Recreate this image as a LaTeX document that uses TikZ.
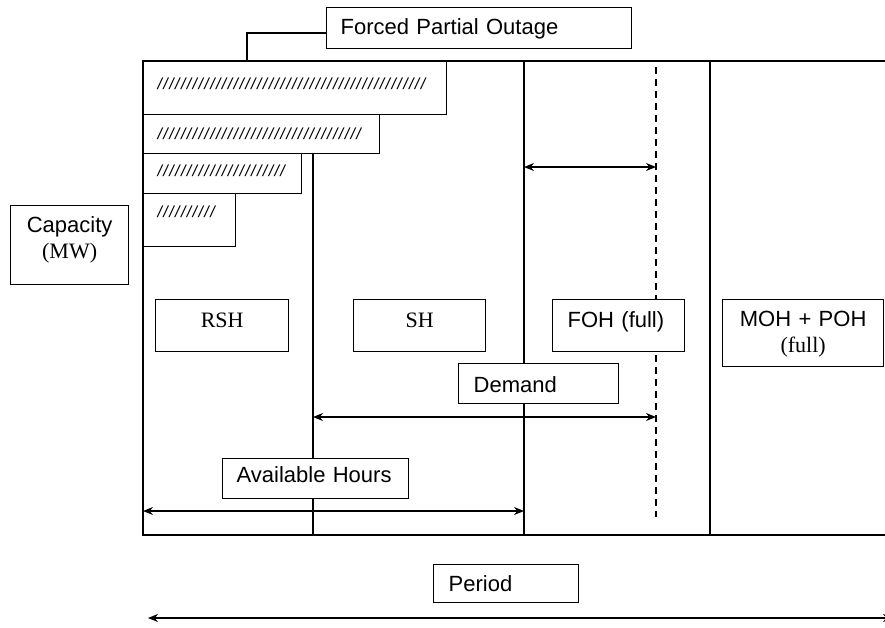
\documentclass[tikz,border=0pt]{standalone}
\usepackage{fontspec}
\setmainfont{Liberation Sans}
\newfontfamily\tnr{Liberation Serif}
\usetikzlibrary{arrows.meta, positioning}

\newcommand{\hatchrow}[1]{{\fontsize{16}{18}\selectfont\itshape\foreach \i in {1,...,#1}{/\kern1.4pt}}}

\tikzset{
    tbox/.style={draw, fill=white, line width=1.3pt, inner ysep=0pt, anchor=north west,
        font=\fontsize{22}{26}\selectfont},
    frame/.style={line width=1.3pt},
    dimarrow/.style={line width=1.3pt, {Stealth[length=10pt,width=8pt]}-{Stealth[length=10pt,width=8pt]}}
}

\begin{document}
\begin{tikzpicture}[x=1pt, y=-1pt]
    \useasboundingbox (0,0) rectangle (885,627);
    \clip (0,0) rectangle (885,627);

    % frame and divisions
    \draw[frame] (885,61) -- (143,61) -- (143,535) -- (885,535);
    \draw[frame] (313,153) -- (313,535);
    \draw[frame] (524,61) -- (524,535);
    \draw[frame] (710,61) -- (710,535);
    \draw[frame, dash pattern=on 7pt off 5pt] (656,67) -- (656,517);

    \coordinate (h1top) at (247,61);
    \coordinate (fpoline) at (247,33);

    % dimension arrows
    \draw[dimarrow] (524,167) -- (656,167);
    \draw[dimarrow] (313,417) -- (656,417);
    \draw[dimarrow] (143,511) -- (524,511);
    \draw[dimarrow] (148,618) -- (893,618);

    % partial outage bars
    \node[tbox, inner xsep=14pt, text width=275pt, align=left, text height=28pt, text depth=25pt] (h1) at (143,61) {\hatchrow{46}};
    \node[tbox, inner xsep=14pt, text width=208pt, align=left, text height=25pt, text depth=14pt] (h2) at (143,114) {\hatchrow{35}};
    \node[tbox, inner xsep=14pt, text width=130pt, align=left, text height=23pt, text depth=17pt] (h3) at (143,153) {\hatchrow{22}};
    \node[tbox, inner xsep=14pt, text width=64pt, align=left, text height=24pt, text depth=29pt] (h4) at (143,193) {\hatchrow{10}};

    % labels
    \node[tbox, inner xsep=14pt, text width=277pt, align=left, text height=27pt, text depth=14pt] (fpo) at (326,7) {Forced Partial Outage};
    \draw[frame] (fpo.west |- fpoline) -- (fpoline) -- (h1top);

    \node[tbox, inner xsep=0pt, text width=118pt, align=center, text height=27pt, text depth=52pt] (cap) at (10,205) {Capacity\\{\tnr (MW)}};
    \node[tbox, inner xsep=0pt, text width=133pt, align=center, text height=28pt, text depth=24pt] (rsh) at (155,299) {\tnr RSH};
    \node[tbox, inner xsep=0pt, text width=132pt, align=center, text height=28pt, text depth=24pt] (sh) at (353,299) {\tnr SH};
    \node[tbox, inner xsep=15pt, text width=102pt, align=left, text height=28pt, text depth=24pt] (foh) at (552,299) {FOH (full)};
    \node[tbox, inner xsep=0pt, text width=161pt, align=center, text height=27pt, text depth=40pt] (mohpoh) at (722,299) {MOH + POH\\{\tnr (full)}};
    \node[tbox, inner xsep=15pt, text width=130pt, align=left, text height=29pt, text depth=11pt] (demand) at (458,363) {Demand};
    \node[tbox, inner xsep=14pt, text width=158pt, align=left, text height=24pt, text depth=16pt] (avail) at (222,458) {Available Hours};
    \node[tbox, inner xsep=15pt, text width=115pt, align=left, text height=27pt, text depth=11pt] (period) at (433,564) {Period};
\end{tikzpicture}
\end{document}
